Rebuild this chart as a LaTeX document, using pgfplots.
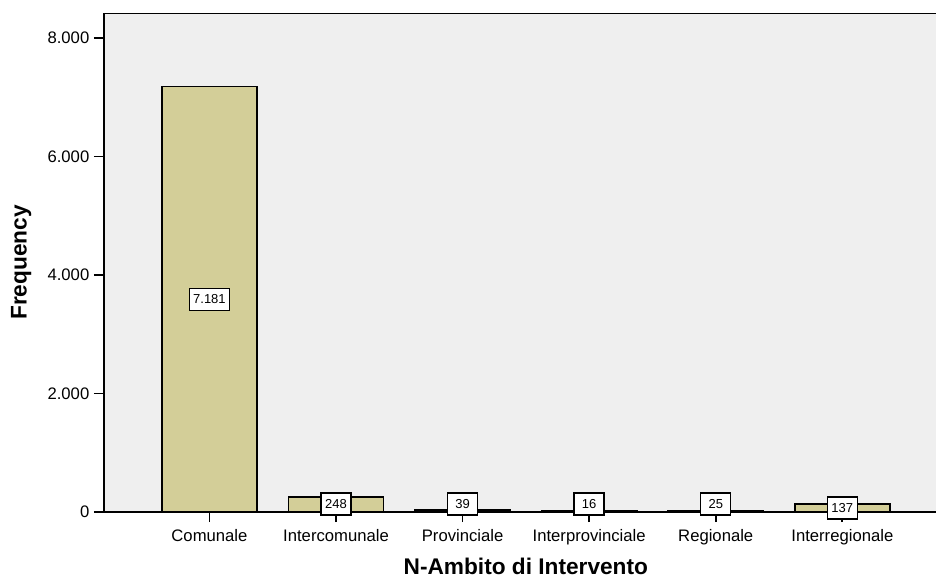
\documentclass[border=0pt]{standalone}
\usepackage{pgfplots}
\pgfplotsset{compat=1.18}
\usepackage{fontspec}
\setmainfont{Liberation Sans}

\definecolor{barfill}{RGB}{211,206,152}
\definecolor{plotbg}{RGB}{239,239,239}

\begin{document}
\begin{tikzpicture}
    \begin{axis}[
            at={(0,0)}, anchor=south west,
            scale only axis,
            width=624pt, height=374.25pt,
            xmin=-0.833, xmax=5.74,
            ymin=0, ymax=8422,
            axis x line*=bottom,
            axis y line*=left,
            axis line style={line width=1.6pt, black},
            axis background/.style={fill=plotbg},
            axis on top,
            tick align=outside,
            major tick length=7.5pt,
            tick style={line width=1.3pt, black},
            xtick={0,1,2,3,4,5},
            xticklabels={Comunale, Intercomunale, Provinciale, Interprovinciale, Regionale, Interregionale},
            ytick={0,2000,4000,6000,8000},
            yticklabels={0, 2.000, 4.000, 6.000, 8.000},
            tick label style={font=\fontsize{12.5}{14}\selectfont},
            xticklabel style={yshift=-2pt},
            xlabel={N-Ambito di Intervento},
            ylabel={Frequency},
            label style={font=\fontsize{17}{19}\selectfont\bfseries},
            xlabel style={at={(axis description cs:0.507,-0.110)}, anchor=center},
            ylabel style={at={(axis description cs:-0.0994,0.5)}, anchor=center},
        ]

        % bars
        \addplot[ybar, bar width=0.75, fill=barfill, draw=black, line width=1.3pt]
            coordinates {(0,7181) (1,248) (2,39) (3,16) (4,25) (5,137)};

        % value boxes
        \addplot[draw=none, mark=none, nodes near coords, point meta=explicit symbolic,
            every node near coord/.append style={anchor=center, fill=white, draw=black,
                line width=1.1pt, font=\fontsize{9.75}{11}\selectfont,
                inner xsep=2.8pt, minimum width=22.5pt, minimum height=16.5pt}]
            coordinates {(0,3590)[7.181] (1,135)[248] (2,135)[39] (3,135)[16] (4,135)[25] (5,68)[137]};

        % top border of the frame
        \draw[line width=1.6pt, black] (rel axis cs:0,1) -- (rel axis cs:1,1);
    \end{axis}
    \pgfresetboundingbox
    \path (-78pt,-50.25pt) rectangle (624pt,384pt);
\end{tikzpicture}
\end{document}
